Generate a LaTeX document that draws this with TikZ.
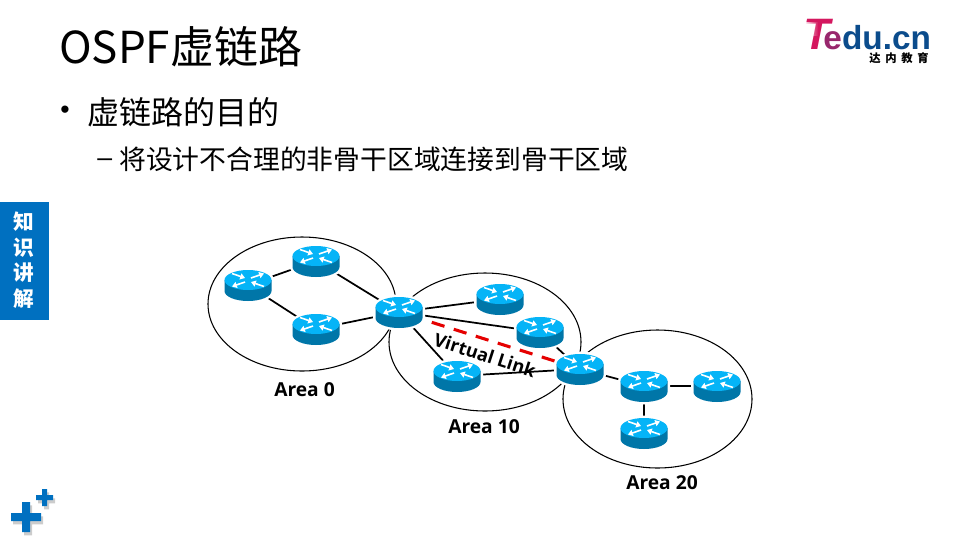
\documentclass[tikz,border=0pt]{standalone}
\usepackage{fontspec}
\usepackage{xcolor}
\setmainfont{Noto Sans CJK SC}
\newfontfamily\areafont{Open Sans}
\newfontfamily\logofont{Liberation Sans}
\usetikzlibrary{arrows.meta, shapes.geometric, positioning, shadows, fadings}
\definecolor{eduBlue}{HTML}{0070C0}
\definecolor{routerTop}{HTML}{05B4F7}
\definecolor{routerSide}{HTML}{0076A8}
\definecolor{logoBlue}{HTML}{0B4C8C}
\definecolor{logoPink}{HTML}{D4175F}

\begin{document}
\begin{tikzpicture}[
  x=0.75pt, y=-0.75pt, >=Stealth,
  areaoval/.style={draw=black, line width=0.8pt},
  routerbox/.style={ellipse, minimum width=35pt, minimum height=23pt, inner sep=0pt},
  linkline/.style={draw=black, line width=1.3pt},
  virtline/.style={draw=red!90!black, line width=2.3pt, dash pattern=on 10pt off 7.3pt, shorten <=9pt},
  arealabel/.style={font=\areafont\bfseries\fontsize{14.4}{17}\selectfont, inner sep=0pt},
  headtext/.style={anchor=west, inner sep=0pt},
  sidetext/.style={text=white, font=\bfseries\fontsize{15.5}{18}\selectfont, inner sep=0pt},
  plusmark/.style={fill=eduBlue, drop shadow={shadow xshift=1.5pt, shadow yshift=-2.5pt, fill=black, opacity=0.2}},
  routericon/.pic={
    \fill[white] (-26,-5) arc[start angle=180, end angle=360, x radius=26, y radius=12.5]
      -- (26,6) arc[start angle=0, end angle=180, x radius=26, y radius=12.5] -- cycle;
    \fill[routerSide] (-23.5,-5) -- (-23.5,6) arc[start angle=180, end angle=0, x radius=23.5, y radius=10]
      -- (23.5,-5) -- cycle;
    \fill[routerTop] (0,-5) ellipse[x radius=23.5, y radius=10];
    \foreach \ax/\ay/\bx/\by in {-16/-11.5/-3/-7, 3/-7/16/-11.5, -3/-3/-16/1.5, 16/1.5/3/-3}{
      \draw[white, line width=1.2pt, -{Triangle[length=3.6pt,width=4.6pt]}] (\ax,\ay) -- (\bx,\by);
    }
  }
]

\def\routerlist{rLeft/248/285, rTop/316/261, rLow/316/329, rHubA/399/312,
                rMidA/500/299, rMidB/540/332, rMidC/457/376, rHubB/580/369,
                rEndA/644/386, rEndB/717/386, rEndC/644/433}

\useasboundingbox (0,0) rectangle (960,540);

% heading
\node[headtext, font=\fontsize{33}{38}\selectfont] (title) at (59,47) {OSPF虚链路};
\node[headtext, font=\logofont\fontsize{20}{24}\selectfont] (dotmark) at (60,112) {•};
\node[headtext, font=\fontsize{24}{29}\selectfont] (lineone) at (87,112) {虚链路的目的};
\node[headtext, font=\logofont\fontsize{20}{24}\selectfont] (dashmark) at (97,163) {–};
\node[headtext, font=\fontsize{20.1}{24}\selectfont] (linetwo) at (119,159) {将设计不合理的非骨干区域连接到骨干区域};

% logo
\node[anchor=base west, inner sep=0pt, font=\logofont\bfseries\fontsize{25}{28}\selectfont, text=logoBlue] (logo) at (803,49.5)
  {\textcolor{logoPink}{\fontsize{33}{28}\selectfont\itshape T}\kern-5pt\textcolor{logoPink!70!logoBlue}{e}du.cn};
\fill[white, path fading=east] (803,22) rectangle (818,36);
\node[inner sep=0pt, font=\bfseries\fontsize{8.5}{10}\selectfont] (logosub) at (899,58) {达\hspace{3.5pt}内\hspace{3.5pt}教\hspace{3.5pt}育};

% side tab
\fill[eduBlue] (0,202) rectangle (49,320);
\node[sidetext] (sideA) at (24,222) {知};
\node[sidetext] (sideB) at (24,248) {识};
\node[sidetext] (sideC) at (24,273) {讲};
\node[sidetext] (sideD) at (24,299) {解};

% corner marks
\foreach \cx/\cy/\arm/\half in {26/517/15/4, 44.5/497.5/8.5/2.5}{
  \path[plusmark] (\cx-\half,\cy-\arm) -- (\cx+\half,\cy-\arm) -- (\cx+\half,\cy-\half)
    -- (\cx+\arm,\cy-\half) -- (\cx+\arm,\cy+\half) -- (\cx+\half,\cy+\half)
    -- (\cx+\half,\cy+\arm) -- (\cx-\half,\cy+\arm) -- (\cx-\half,\cy+\half)
    -- (\cx-\arm,\cy+\half) -- (\cx-\arm,\cy-\half) -- (\cx-\half,\cy-\half) -- cycle;
}

% areas
\draw[areaoval] (302,304) ellipse[x radius=94, y radius=67];
\draw[areaoval] (485,342) ellipse[x radius=96, y radius=69];
\draw[areaoval] (657.5,399) ellipse[x radius=94.5, y radius=69];

% routers
\foreach \rname/\rx/\ry in \routerlist{
  \node[routerbox] (\rname) at (\rx,\ry) {};
}

% links
\foreach \from/\to in {rLeft/rTop, rLeft/rLow, rTop/rHubA, rLow/rHubA, rHubA/rMidA, rHubA/rMidB,
                       rHubA/rMidC, rMidC/rHubB, rMidB/rHubB, rHubB/rEndA, rEndA/rEndB, rEndA/rEndC}{
  \draw[linkline] (\from) -- (\to);
}
\foreach \rname/\rx/\ry in \routerlist{
  \pic at (\rx,\ry) {routericon};
}
\draw[virtline] (rHubA) -- (rHubB);

% labels
\node[arealabel, rotate=-18, font=\areafont\bfseries\fontsize{13.6}{17}\selectfont] (vlabel) at (485,355) {Virtual Link};
\node[arealabel] (areaA) at (304.5,390) {Area 0};
\node[arealabel] (areaB) at (484,427) {Area 10};
\node[arealabel] (areaC) at (662,483) {Area 20};

\end{tikzpicture}
\end{document}
